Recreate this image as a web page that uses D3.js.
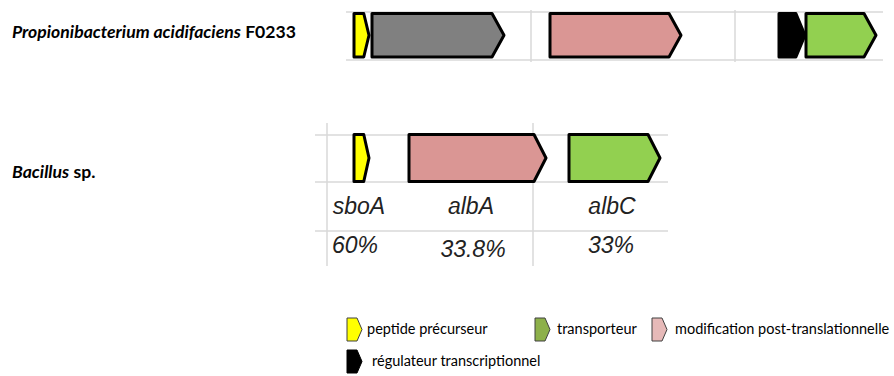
<!DOCTYPE html>
<html>
<head>
<meta charset="utf-8">
<script src="https://cdn.jsdelivr.net/npm/d3@7"></script>
<style>
  html, body { margin: 0; padding: 0; background: #fff; }
  svg { display: block; }
</style>
</head>
<body>
<script>
// ---------- DATA ----------
const species = ["Propionibacterium acidifaciens", "Bacillus"];
const speciesSuffix = [" F0233", " sp."];

// Track 1 genes (relative positions along the locus, arbitrary units)
const track1Genes = [
  { start: 8,   end: 23,  type: "peptide" },
  { start: 26,  end: 158, type: "unknown" },
  { start: 204, end: 335, type: "modification" },
  { start: 433, end: 459, type: "regulator" },
  { start: 460, end: 530, type: "transporter" }
];
const track1Length = 537;
const track1Dividers = [185, 389];

// Track 2 genes
const track2Genes = [
  { start: 39,  end: 54,  type: "peptide" },
  { start: 94,  end: 231, type: "modification" },
  { start: 254, end: 345, type: "transporter" }
];
const track2Length = 353;
const track2Dividers = [12, 218];

const geneNames = ["sboA", "albA", "albC"];
const geneNameX = [44, 156, 297];
const identities = ["60%", "33.8%", "33%"];
const identityX = [40, 158, 296];

const typeColors = {
  peptide: "#ffff00",
  unknown: "#808080",
  modification: "#da9694",
  regulator: "#000000",
  transporter: "#92d050"
};

const legendLabels = ["peptide précurseur", "transporteur", "modification post-translationnelle", "régulateur transcriptionnel"];
const legendColors = ["#ffff00", "#8db04a", "#e6b9b8", "#000000"];

// ---------- DRAW ----------
const W = 894, H = 376;
const svg = d3.select("body").append("svg").attr("width", W).attr("height", H);
svg.append("rect").attr("width", W).attr("height", H).attr("fill", "#fff");

const gridColor = "#d9d9d9";

function genePath(x, y0, y1) {
  return d => {
    const a = x(d.start), b = x(d.end);
    const tip = Math.min(12, (b - a) * 0.35);
    const m = (y0 + y1) / 2;
    return `M${a},${y0}L${b - tip},${y0}L${b},${m}L${b - tip},${y1}L${a},${y1}Z`;
  };
}

// Species labels
const sp = svg.append("g").attr("font-family", "Lato, 'Open Sans', sans-serif").attr("font-weight", "bold").attr("font-size", 17.6).attr("fill", "#000");
[38, 178].forEach((y, i) => {
  const t = sp.append("text").attr("x", 12).attr("y", y);
  t.append("tspan").attr("font-style", "italic").text(species[i]);
  t.append("tspan").text(speciesSuffix[i]);
});

// Track 1
const x1 = d3.scaleLinear().domain([0, track1Length]).range([346, 883]);
const t1 = svg.append("g");
[12, 60].forEach(y => t1.append("line").attr("x1", x1(0)).attr("x2", x1(track1Length)).attr("y1", y).attr("y2", y)
  .attr("stroke", gridColor).attr("stroke-width", 1.5));
t1.selectAll("line.div").data(track1Dividers).join("line").attr("class", "div")
  .attr("x1", d => x1(d)).attr("x2", d => x1(d)).attr("y1", 10).attr("y2", 62)
  .attr("stroke", gridColor).attr("stroke-width", 1.5);
t1.selectAll("path").data(track1Genes).join("path")
  .attr("d", genePath(x1, 13.5, 57))
  .attr("fill", d => typeColors[d.type])
  .attr("stroke", "#000").attr("stroke-width", 3).attr("stroke-linejoin", "round");

// Track 2
const x2 = d3.scaleLinear().domain([0, track2Length]).range([315, 668]);
const t2 = svg.append("g");
[135, 182, 231].forEach(y => t2.append("line").attr("x1", x2(0)).attr("x2", x2(track2Length)).attr("y1", y).attr("y2", y)
  .attr("stroke", gridColor).attr("stroke-width", 1.5));
t2.selectAll("line.div").data(track2Dividers).join("line").attr("class", "div")
  .attr("x1", d => x2(d)).attr("x2", d => x2(d)).attr("y1", 123).attr("y2", 266)
  .attr("stroke", gridColor).attr("stroke-width", 1.5);
t2.selectAll("path").data(track2Genes).join("path")
  .attr("d", genePath(x2, 134.5, 181.5))
  .attr("fill", d => typeColors[d.type])
  .attr("stroke", "#000").attr("stroke-width", 3).attr("stroke-linejoin", "round");

const lab = svg.append("g").attr("font-family", "'Liberation Sans', Arial, sans-serif").attr("font-style", "italic")
  .attr("font-size", 23).attr("fill", "#222").attr("text-anchor", "middle");
lab.selectAll("text.name").data(geneNames).join("text").attr("class", "name")
  .attr("x", (d, i) => x2(geneNameX[i])).attr("y", 214).text(d => d);
lab.selectAll("text.pct").data(identities).join("text").attr("class", "pct")
  .attr("x", (d, i) => x2(identityX[i])).attr("y", (d, i) => i === 1 ? 257 : 253).text(d => d);

// Legend
const legendPos = [
  { x: 347, y: 318, tx: 367 },
  { x: 535, y: 318, tx: 557 },
  { x: 652, y: 318, tx: 675 },
  { x: 347, y: 350, tx: 372 }
];
const lg = svg.append("g").attr("font-family", "Lato, 'Open Sans', sans-serif").attr("font-size", 14.5).attr("fill", "#000");
legendLabels.forEach((label, i) => {
  const p = legendPos[i];
  const w = 15, h = 23, tip = 5;
  const g = lg.append("g").attr("transform", `translate(${p.x},${p.y})`);
  g.append("path").attr("d", `M0,0L${w - tip},0L${w},${h / 2}L${w - tip},${h}L0,${h}Z`)
    .attr("fill", legendColors[i]).attr("stroke", i === 3 ? "#000" : "#404040").attr("stroke-width", 1);
  lg.append("text").attr("x", p.tx).attr("y", p.y + 16).text(label);
});
</script>
</body>
</html>
